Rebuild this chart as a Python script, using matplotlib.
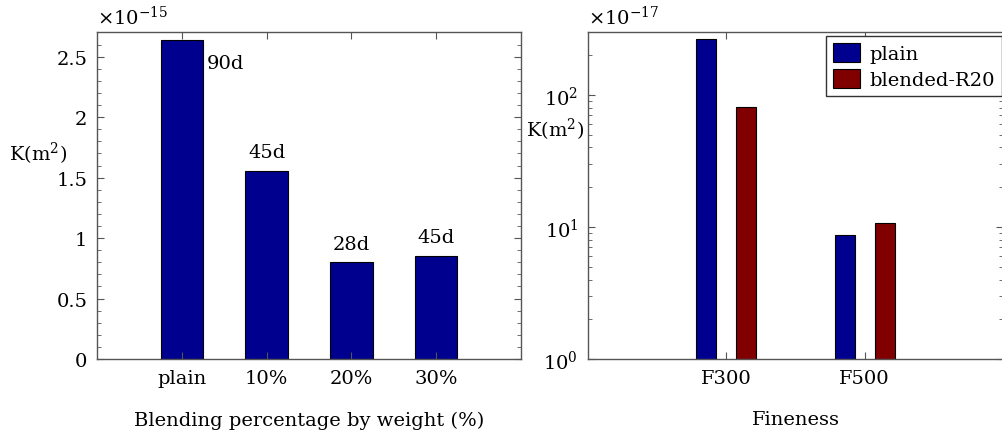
import numpy as np
import matplotlib.pyplot as plt
from matplotlib.ticker import MultipleLocator, AutoMinorLocator, LogLocator

plt.rcParams['font.family'] = ['DejaVu Serif']
plt.rcParams['mathtext.fontset'] = 'dejavuserif'
plt.rcParams['font.size'] = 14

# permeability vs blending percentage (units of 1e-15 m^2)
blend_labels = ['plain', '10%', '20%', '30%']
k_blend = [2.64, 1.555, 0.80, 0.855]
age_labels = ['90d', '45d', '28d', '45d']

# permeability vs fineness (units of 1e-17 m^2)
fine_labels = ['F300', 'F500']
k_plain = [265, 8.7]
k_r20 = [81, 10.8]

BLUE = '#00008f'
RED = '#800000'
SPINE = '#555555'

fig = plt.figure(figsize=(10.03, 4.35), dpi=100)
ax1 = fig.add_axes([0.0967, 0.1724, 0.4227, 0.7506])
ax2 = fig.add_axes([0.5862, 0.1724, 0.4138, 0.7506])


def style(ax):
    for s in ax.spines.values():
        s.set_color(SPINE)
        s.set_linewidth(1.0)
    ax.tick_params(which='both', direction='in', top=True, right=True,
                   color=SPINE, pad=7)
    ax.tick_params(which='major', length=5)
    ax.tick_params(which='minor', length=3)


# left panel
x1 = np.arange(1, len(k_blend) + 1)
ax1.bar(x1, k_blend, width=0.5, color=BLUE, edgecolor='black', linewidth=0.8)
ax1.set_xlim(0, 5)
ax1.set_ylim(0, 2.7)
ax1.set_xticks(x1, blend_labels)
ax1.yaxis.set_major_locator(MultipleLocator(0.5))
ax1.yaxis.set_minor_locator(AutoMinorLocator(5))
ax1.set_yticks([0, 0.5, 1, 1.5, 2, 2.5], ['0', '0.5', '1', '1.5', '2', '2.5'])
style(ax1)
ax1.tick_params(axis='x', which='minor', bottom=False, top=False)

ax1.annotate(age_labels[0], (x1[0] + 0.25, k_blend[0]), xytext=(3, -10),
             textcoords='offset points', ha='left', va='top')
for xi, yi, lab in zip(x1[1:], k_blend[1:], age_labels[1:]):
    ax1.annotate(lab, (xi, yi), xytext=(0, 7), textcoords='offset points',
                 ha='center', va='bottom')

ax1.set_xlabel('Blending percentage by weight (%)', labelpad=17)
ax1.set_ylabel('K(m$^2$)', rotation=0, ha='center', va='center')
ax1.yaxis.set_label_coords(-0.14, 0.63)
ax1.text(0.0, 1.015, r'$\times10^{-15}$', transform=ax1.transAxes,
         ha='left', va='bottom')

# right panel
x2 = np.arange(1, len(fine_labels) + 1)
w = 0.145
ax2.bar(x2 - w, k_plain, width=w, color=BLUE, edgecolor='black',
        linewidth=0.8, label='plain')
ax2.bar(x2 + w, k_r20, width=w, color=RED, edgecolor='black',
        linewidth=0.8, label='blended-R20')
ax2.set_yscale('log')
ax2.set_xlim(0, 3)
ax2.set_ylim(1, 297)
ax2.set_xticks(x2, fine_labels)
ax2.yaxis.set_major_locator(LogLocator(base=10))
ax2.yaxis.set_minor_locator(LogLocator(base=10, subs=np.arange(2, 10)))
style(ax2)
ax2.tick_params(axis='x', which='minor', bottom=False, top=False)

ax2.set_xlabel('Fineness', labelpad=17)
ax2.set_ylabel('K(m$^2$)', rotation=0, ha='center', va='center')
ax2.yaxis.set_label_coords(-0.08, 0.705)
ax2.text(0.0, 1.015, r'$\times10^{-17}$', transform=ax2.transAxes,
         ha='left', va='bottom')

leg = ax2.legend(loc='upper right', bbox_to_anchor=(0.997, 0.988),
                 fancybox=False, edgecolor='#333333', framealpha=1,
                 handlelength=1.4, handleheight=1.13, borderpad=0.35,
                 labelspacing=0.3, handletextpad=0.5, borderaxespad=0)
leg.get_frame().set_linewidth(1.0)

fig.savefig('out.png', dpi=100)
